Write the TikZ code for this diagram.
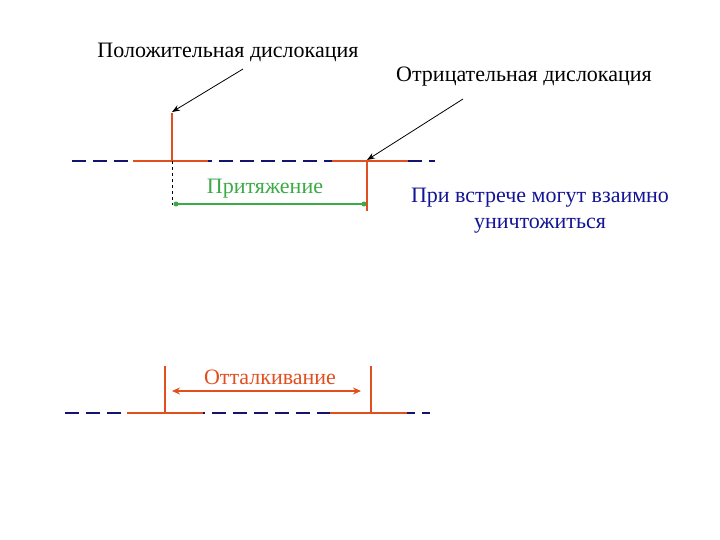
\documentclass[tikz,border=0pt]{standalone}
\usepackage{fontspec}
\setmainfont{Liberation Serif}
\usetikzlibrary{arrows.meta}
\definecolor{rd}{RGB}{226,78,30}
\definecolor{nv}{RGB}{20,20,110}
\definecolor{gr}{RGB}{60,170,70}
\definecolor{bl}{RGB}{20,20,150}
\tikzset{
 plane/.style={nv,line width=2pt,dash pattern=on 14pt off 7pt},
 disl/.style={rd,line width=2.6pt},
 lbl/.style={font=\fontsize{22}{26}\selectfont,inner sep=1pt},
 ptr/.style={black,line width=0.8pt,-{Stealth[length=8pt,width=6pt]}}
}
\begin{document}
\begin{tikzpicture}[x=1pt,y=-1pt]
\useasboundingbox (0,0) rectangle (720,540);
% top
\draw[plane] (72,161) -- (435,161);
\draw[disl] (133,161) -- (208,161);
\draw[disl] (172,113) -- (172,161);
\draw[disl] (332,161) -- (408,161);
\draw[disl] (367,161) -- (367,211);
\draw[black,dashed,line width=0.6pt] (172,161) -- (172,205);
\coordinate (g1) at (176,204); \coordinate (g2) at (364,204);
\draw[gr,line width=1.5pt] (g1) -- (g2);
\fill[gr] (g1) circle (2.5); \fill[gr] (g2) circle (2.5);
\node[lbl,text=gr] (att) at (265,189) {Притяжение};
\node[lbl] (pos) at (228,52) {Положительная дислокация};
\node[lbl] (neg) at (524,77) {Отрицательная дислокация};
\coordinate (pt) at (172,112); \coordinate (nt) at (367,160);
\draw[ptr] (243,69) -- (pt);
\draw[ptr] (463,99) -- (nt);
\node[lbl,text=bl,align=center] (ann) at (540,211) {При встрече могут взаимно\\уничтожиться};
% bottom
\draw[plane] (65,413) -- (430,413);
\draw[disl] (127,413) -- (203,413);
\draw[disl] (165,366) -- (165,413);
\draw[disl] (330,413) -- (407,413);
\draw[disl] (371,366) -- (371,413);
\coordinate (r1) at (172,391); \coordinate (r2) at (361,391);
\draw[rd,line width=1.8pt,{Stealth[length=8pt,width=7pt]}-{Stealth[length=8pt,width=7pt]}] (r1) -- (r2);
\node[lbl,text=rd] (rep) at (270,377) {Отталкивание};
\end{tikzpicture}
\end{document}
